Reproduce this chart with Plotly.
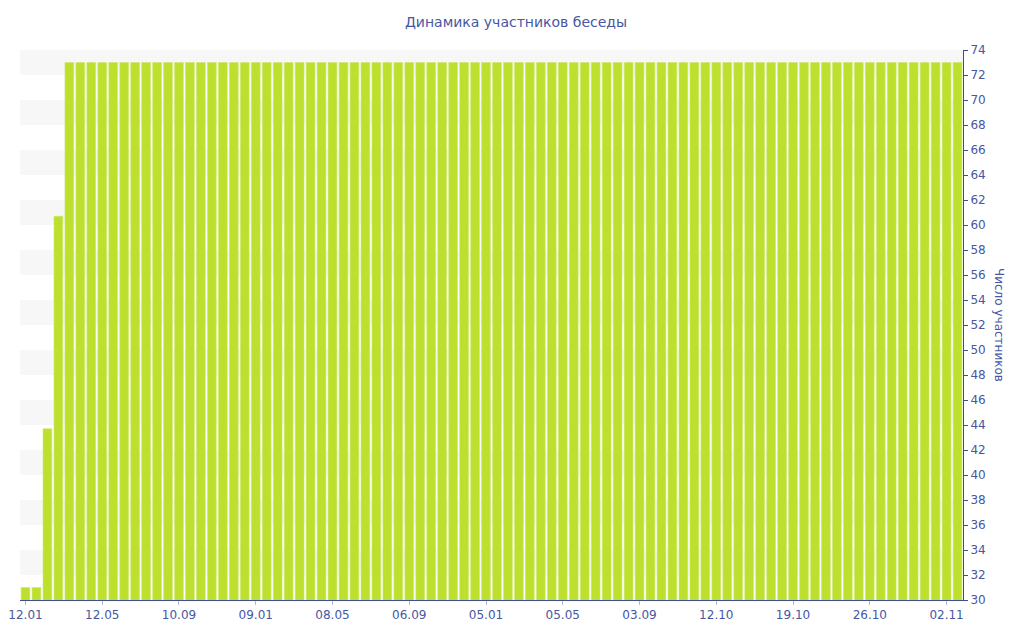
import plotly.graph_objects as go

# Даты бесед (категории оси X)
dates = [
    "2013-01-12", "2013-01-29", "2013-02-15", "2013-03-04", "2013-03-21", "2013-04-07", "2013-04-24",
    "2013-05-12", "2013-05-29", "2013-06-15", "2013-07-02", "2013-07-19", "2013-08-05", "2013-08-22",
    "2013-09-10", "2013-09-27", "2013-10-14", "2013-10-31", "2013-11-17", "2013-12-04", "2013-12-21",
    "2014-01-09", "2014-01-26", "2014-02-12", "2014-03-01", "2014-03-18", "2014-04-04", "2014-04-21",
    "2014-05-08", "2014-05-25", "2014-06-11", "2014-06-28", "2014-07-15", "2014-08-01", "2014-08-18",
    "2014-09-06", "2014-09-23", "2014-10-10", "2014-10-27", "2014-11-13", "2014-11-30", "2014-12-17",
    "2015-01-05", "2015-01-22", "2015-02-08", "2015-02-25", "2015-03-14", "2015-03-31", "2015-04-17",
    "2015-05-05", "2015-05-22", "2015-06-08", "2015-06-25", "2015-07-12", "2015-07-29", "2015-08-15",
    "2015-09-03", "2015-09-09", "2015-09-15", "2015-09-21", "2015-09-27", "2015-10-03", "2015-10-08",
    "2015-10-12", "2015-10-13", "2015-10-14", "2015-10-15", "2015-10-16", "2015-10-17", "2015-10-18",
    "2015-10-19", "2015-10-20", "2015-10-21", "2015-10-22", "2015-10-23", "2015-10-24", "2015-10-25",
    "2015-10-26", "2015-10-27", "2015-10-28", "2015-10-29", "2015-10-30", "2015-10-31", "2015-11-01",
    "2015-11-02", "2015-11-03",
]

# Число участников
members = [31, 31, 43.7, 60.7] + [73] * 82

tick_dates = [
    "2013-01-12", "2013-05-12", "2013-09-10", "2014-01-09", "2014-05-08", "2014-09-06",
    "2015-01-05", "2015-05-05", "2015-09-03", "2015-10-12", "2015-10-19", "2015-10-26",
    "2015-11-02",
]
tick_labels = [
    "12.01", "12.05", "10.09", "09.01", "08.05", "06.09", "05.01", "05.05", "03.09",
    "12.10", "19.10", "26.10", "02.11",
]

TEXT = "#4657a3"
AXIS = "#3b4c9a"
FONT = "DejaVu Sans, Verdana, sans-serif"

fig = go.Figure(
    go.Bar(
        x=dates,
        y=members,
        marker_color="#bde02f",
        marker_line=dict(color="#cde86a", width=0.6),
        hovertemplate="%{x}<br>Участников: %{y}<extra></extra>",
    )
)

# чередующиеся серые полосы фона
for y0 in range(32, 74, 4):
    fig.add_hrect(y0=y0, y1=y0 + 2, fillcolor="#f7f7f7", line_width=0, layer="below")

fig.update_xaxes(
    type="category",
    tickmode="array",
    tickvals=tick_dates,
    ticktext=tick_labels,
    showline=True,
    linecolor=AXIS,
    linewidth=1,
    ticks="outside",
    ticklen=4,
    tickcolor="#b0b8d8",
    showgrid=False,
    automargin=False,
    tickfont=dict(size=12, color=TEXT),
)
fig.update_yaxes(
    side="right",
    range=[30, 74],
    dtick=2,
    showline=True,
    linecolor=AXIS,
    linewidth=1,
    ticks="outside",
    ticklen=4,
    tickcolor=AXIS,
    showgrid=False,
    zeroline=False,
    automargin=False,
    tickfont=dict(size=12, color=TEXT),
)
fig.add_annotation(
    text="Число участников",
    textangle=90,
    xref="paper",
    yref="paper",
    x=1,
    y=0.5,
    xanchor="left",
    xshift=27,
    showarrow=False,
    font=dict(size=12, color=TEXT),
)
fig.update_layout(
    title=dict(text="Динамика участников беседы", x=0.5, y=0.978, yanchor="middle",
               font=dict(size=14, color=TEXT)),
    width=1016,
    height=632,
    font=dict(family=FONT),
    bargap=0.2,
    plot_bgcolor="white",
    paper_bgcolor="white",
    showlegend=False,
    margin=dict(l=12, r=61, t=42, b=40),
)
fig.write_html("out.html")
